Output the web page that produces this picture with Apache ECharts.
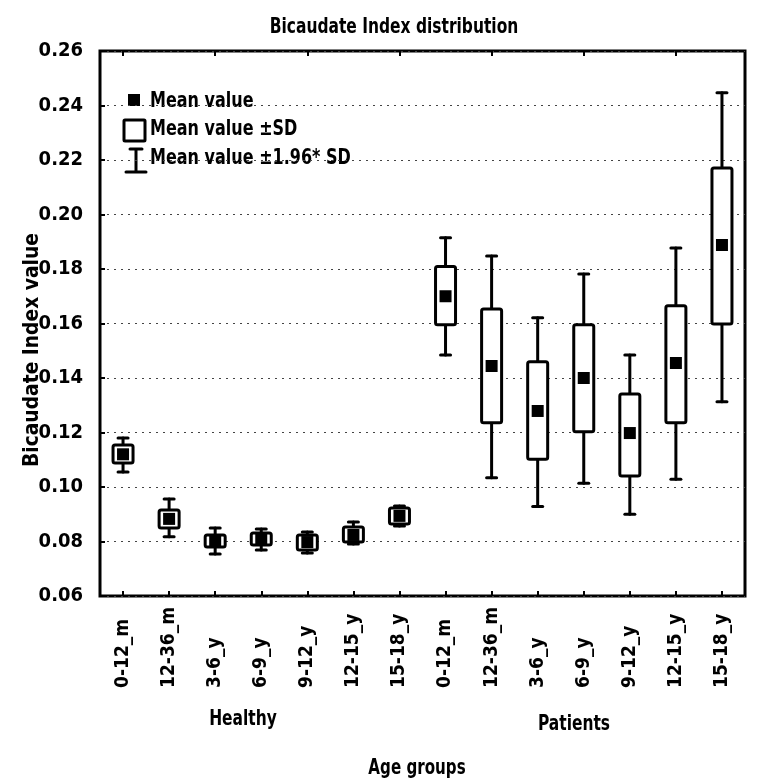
<!DOCTYPE html>
<html>
<head>
<meta charset="utf-8">
<script src="https://cdn.jsdelivr.net/npm/echarts@6/dist/echarts.min.js"></script>
<style>html,body{margin:0;padding:0;background:#fff}#c{width:771px;height:784px}</style>
</head>
<body>
<div id="c"></div>
<script>
const categories = ['0-12_m','12-36_m','3-6_y','6-9_y','9-12_y','12-15_y','15-18_y','0-12_m','12-36_m','3-6_y','6-9_y','9-12_y','12-15_y','15-18_y'];
const means  = [0.112, 0.0883, 0.0803, 0.081, 0.0798, 0.0824, 0.0894, 0.170, 0.1444, 0.1279, 0.140, 0.1198, 0.1455, 0.1888];
const sdLow  = [0.1088, 0.085, 0.078, 0.0787, 0.0769, 0.0798, 0.0864, 0.1595, 0.1236, 0.1102, 0.1203, 0.104, 0.1236, 0.1598];
const sdHigh = [0.1154, 0.0916, 0.0824, 0.0831, 0.0824, 0.0853, 0.0923, 0.1809, 0.1653, 0.146, 0.1595, 0.1341, 0.1665, 0.2171];
const ciLow  = [0.1055, 0.0817, 0.0754, 0.0769, 0.0758, 0.0791, 0.0857, 0.1484, 0.1034, 0.0928, 0.1014, 0.090, 0.1028, 0.1313];
const ciHigh = [0.118, 0.0956, 0.085, 0.0846, 0.0835, 0.0872, 0.093, 0.1915, 0.1848, 0.1621, 0.1782, 0.1484, 0.1877, 0.2447];
const yTicks = [0.06, 0.08, 0.10, 0.12, 0.14, 0.16, 0.18, 0.20, 0.22, 0.24, 0.26];

const FONT = "'DejaVu Sans Condensed', 'Liberation Sans Narrow', sans-serif";
const chart = echarts.init(document.getElementById('c'), null, {renderer: 'canvas'});

const boxData = categories.map((c, i) => [i, ciLow[i], sdLow[i], sdHigh[i], ciHigh[i]]);
const meanData = categories.map((c, i) => [i, means[i]]);

function renderBox(params, api) {
  const i = api.value(0);
  const pMin = api.coord([i, api.value(1)]);
  const pLo = api.coord([i, api.value(2)]);
  const pHi = api.coord([i, api.value(3)]);
  const pMax = api.coord([i, api.value(4)]);
  const bw = 20, cw = 10;
  const x = pMin[0];
  const ls = {stroke: '#000', lineWidth: 3, lineCap: 'round'};
  return {
    type: 'group',
    children: [
      {type: 'line', shape: {x1: x, y1: pMin[1], x2: x, y2: pMax[1]}, style: ls},
      {type: 'line', shape: {x1: x - cw/2, y1: pMin[1], x2: x + cw/2, y2: pMin[1]}, style: ls},
      {type: 'line', shape: {x1: x - cw/2, y1: pMax[1], x2: x + cw/2, y2: pMax[1]}, style: ls},
      {type: 'rect', shape: {x: x - bw/2, y: pHi[1], width: bw, height: pLo[1] - pHi[1], r: 2},
       style: {fill: '#fff', stroke: '#000', lineWidth: 3}}
    ]
  };
}

function txt(text, x, y, opts) {
  opts = opts || {};
  return {
    type: 'text', x: x, y: y,
    scaleX: opts.sx || 1, scaleY: opts.sy || 1, rotation: opts.rot || 0,
    style: {text: text, fill: '#000', font: 'bold ' + (opts.size || 20) + 'px ' + FONT,
      align: opts.align || 'center', verticalAlign: 'middle'}
  };
}

chart.setOption({
  animation: false,
  backgroundColor: '#fff',
  grid: {left: 100, right: 26, top: 51, bottom: 188, show: true, borderColor: '#000', borderWidth: 3, backgroundColor: 'transparent'},
  xAxis: [{
    type: 'category', data: categories, boundaryGap: true, position: 'bottom',
    axisLine: {show: false},
    axisTick: {show: true, inside: true, alignWithLabel: true, length: 5, lineStyle: {color: '#000', width: 2}},
    axisLabel: {rotate: 90, align: 'left', margin: 92, interval: 0, color: '#000', fontSize: 19, fontWeight: 'bold', fontFamily: FONT},
    splitLine: {show: false}
  }, {
    type: 'category', data: categories, boundaryGap: true, position: 'top',
    axisLine: {show: false},
    axisTick: {show: true, inside: true, alignWithLabel: true, length: 5, lineStyle: {color: '#000', width: 2}},
    axisLabel: {show: false}
  }],
  yAxis: {
    type: 'value', min: 0.06, max: 0.26, interval: 0.02,
    axisLine: {show: false},
    axisTick: {show: true, inside: true, length: 5, lineStyle: {color: '#000', width: 2}},
    axisLabel: {margin: 17, color: '#000', fontSize: 20, fontWeight: 'bold', fontFamily: FONT,
      formatter: v => { const t = yTicks.find(k => Math.abs(k - v) < 1e-9); return (t !== undefined ? t : v).toFixed(2); }},
    splitLine: {show: true, lineStyle: {color: '#444', width: 1, type: [2, 5]}}
  },
  series: [{
    type: 'custom', renderItem: renderBox, data: boxData, encode: {x: 0, y: [1, 2, 3, 4]}, z: 3
  }, {
    type: 'scatter', data: meanData, symbol: 'rect', symbolSize: 12,
    itemStyle: {color: '#000', opacity: 1}, z: 4
  }],
  graphic: [
    txt('Bicaudate Index distribution', 394, 27, {sx: 0.86, sy: 1.1}),
    txt('Bicaudate Index value', 33, 350, {rot: Math.PI / 2, sx: 1.04, sy: 1.05}),
    txt('Healthy', 243, 719, {sx: 0.86, sy: 1.1}),
    txt('Patients', 574, 724, {sx: 0.86, sy: 1.1}),
    txt('Age groups', 417, 768, {sx: 0.84, sy: 1.1}),
    // legend
    {type: 'rect', shape: {x: 128, y: 94, width: 12, height: 12}, style: {fill: '#000'}},
    txt('Mean value', 150, 101, {align: 'left', sx: 0.89, sy: 1.1}),
    {type: 'rect', shape: {x: 124, y: 120, width: 21, height: 21, r: 1}, style: {fill: '#fff', stroke: '#000', lineWidth: 3}},
    txt('Mean value \u00b1SD', 150, 129, {align: 'left', sx: 0.89, sy: 1.1}),
    {type: 'line', shape: {x1: 136, y1: 149, x2: 136, y2: 172}, style: {stroke: '#000', lineWidth: 3}},
    {type: 'line', shape: {x1: 130, y1: 149, x2: 142, y2: 149}, style: {stroke: '#000', lineWidth: 3, lineCap: 'round'}},
    {type: 'line', shape: {x1: 126, y1: 172, x2: 146, y2: 172}, style: {stroke: '#000', lineWidth: 3, lineCap: 'round'}},
    txt('Mean value \u00b11.96* SD', 150, 158, {align: 'left', sx: 0.89, sy: 1.1})
  ]
});
</script>
</body>
</html>
